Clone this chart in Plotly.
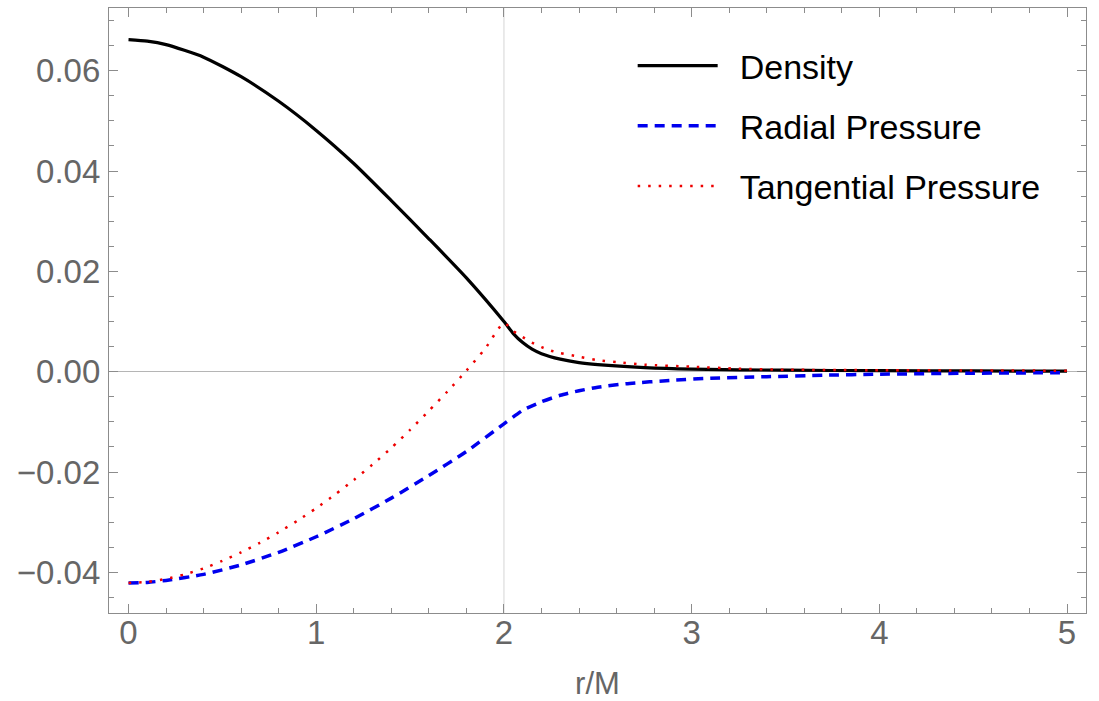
import plotly.graph_objects as go

# ---- data ----
r_density = [0.0, 0.1, 0.2, 0.4, 0.6, 0.8, 1.0, 1.2, 1.4, 1.6, 1.8, 2.0,
             2.05, 2.1, 2.15, 2.2, 2.3, 2.4, 2.5, 2.75, 3.0, 3.5, 4.0, 4.5, 5.0]
density = [0.0662, 0.0659, 0.0652, 0.0627, 0.0588, 0.0539, 0.0481, 0.0415,
           0.0341, 0.0265, 0.0187, 0.0100,
           0.0076, 0.0058, 0.0045, 0.0036, 0.0025, 0.0018, 0.0014, 0.0008,
           0.0005, 0.0003, 0.0002, 0.00015, 0.0001]

r_radial = [0.0, 0.1, 0.2, 0.4, 0.6, 0.8, 1.0, 1.2, 1.4, 1.6, 1.8, 2.0,
            2.1, 2.2, 2.3, 2.4, 2.5, 2.65, 2.9, 3.1, 3.4, 3.7, 4.0, 4.5, 5.0]
radial = [-0.0421, -0.0420, -0.0416, -0.0404, -0.0385, -0.0360, -0.0329,
          -0.0293, -0.0252, -0.0207, -0.0159, -0.0104,
          -0.0077, -0.0060, -0.0047, -0.0038, -0.0031, -0.0024, -0.0017,
          -0.0013, -0.0010, -0.0007, -0.0005, -0.0003, -0.0002]

r_tangential = [0.0, 0.1, 0.2, 0.3, 0.4, 0.5, 0.6, 0.7, 0.8, 0.9, 1.0, 1.1,
                1.2, 1.3, 1.4, 1.5, 1.6, 1.7, 1.8, 1.9, 2.0,
                2.05, 2.1, 2.15, 2.2, 2.25, 2.3, 2.4, 2.5, 2.6, 2.75, 3.0,
                3.25, 3.5, 4.0, 4.5, 5.0]
tangential = [-0.0421, -0.0419, -0.0413, -0.0404, -0.0392, -0.0377, -0.0360,
              -0.0341, -0.0320, -0.0297, -0.0272, -0.0245, -0.0216, -0.0185,
              -0.0152, -0.0116, -0.0078, -0.0039, 0.0002, 0.0046, 0.0097,
              0.0081, 0.0069, 0.0058, 0.0049, 0.0042, 0.0037, 0.0030, 0.0023,
              0.0019, 0.0014, 0.0010, 0.0006, 0.0004, 0.0003, 0.00025, 0.0002]

series_names = ["Density", "Radial Pressure", "Tangential Pressure"]
x_ticks = [0, 1, 2, 3, 4, 5]
y_ticks = [-0.04, -0.02, 0.0, 0.02, 0.04, 0.06]
y_tick_labels = ["\u22120.04", "\u22120.02", "0.00", "0.02", "0.04", "0.06"]
boundary_r = 2.0

FONT = "Liberation Sans"
AX_COL = "#8c8c8c"
GAP = "\u2002"  # small gap between legend sample and text

fig = go.Figure()
fig.add_trace(go.Scatter(
    x=r_density, y=density, mode="lines", name=GAP + series_names[0],
    legendgroup="a",
    line=dict(color="black", width=3.2, shape="spline", smoothing=0.6)))
fig.add_trace(go.Scatter(
    x=r_radial, y=radial, mode="lines", name=GAP + series_names[1],
    legendgroup="b",
    line=dict(color="#0000ee", width=3.5, dash="10px,7px",
              shape="spline", smoothing=0.6)))
fig.add_trace(go.Scatter(
    x=r_tangential, y=tangential, mode="lines", name=GAP + series_names[2],
    legendgroup="c",
    line=dict(color="#ee0000", width=2.5, dash="2.5px,8px",
              shape="spline", smoothing=0.6)))

fig.add_vline(x=boundary_r, line=dict(color="#e3e3e3", width=1.5),
              layer="below")

fig.update_layout(
    width=1099, height=701,
    margin=dict(l=109, r=13, t=8, b=88),
    paper_bgcolor="white", plot_bgcolor="white",
    showlegend=True,
    legend=dict(x=0.536, y=0.952, xanchor="left", yanchor="top",
                font=dict(family=FONT, size=34, color="black"),
                itemwidth=80, tracegroupgap=13,
                bgcolor="rgba(0,0,0,0)"),
    xaxis=dict(
        range=[-0.104, 5.101], showgrid=False, zeroline=False,
        automargin=False,
        showline=True, linecolor=AX_COL, linewidth=1.2, mirror="ticks",
        ticks="inside", ticklen=9, tickcolor=AX_COL, tickwidth=1,
        tickvals=x_ticks,
        tickfont=dict(family=FONT, size=33, color="#666666"),
        ticklabelstandoff=-10,
        minor=dict(ticks="inside", ticklen=5, dtick=0.2, tick0=0,
                   tickcolor=AX_COL, showgrid=False),
        title=dict(text="r/M", font=dict(family=FONT, size=31,
                                         color="#666666"), standoff=23),
    ),
    yaxis=dict(
        range=[-0.0481, 0.0725], showgrid=False,
        automargin=False,
        zeroline=True, zerolinecolor="#b5b5b5", zerolinewidth=1,
        showline=True, linecolor=AX_COL, linewidth=1.2, mirror="ticks",
        ticks="inside", ticklen=9, tickcolor=AX_COL, tickwidth=1,
        tickvals=y_ticks, ticktext=y_tick_labels,
        tickfont=dict(family=FONT, size=33, color="#666666"),
        ticklabelstandoff=1,
        minor=dict(ticks="inside", ticklen=5, dtick=0.005, tick0=0,
                   tickcolor=AX_COL, showgrid=False),
    ),
)

fig.write_html(
    "out.html",
    config={"displayModeBar": False},
    post_script="document.body.style.margin='0';"
                "document.body.style.overflow='hidden';")
